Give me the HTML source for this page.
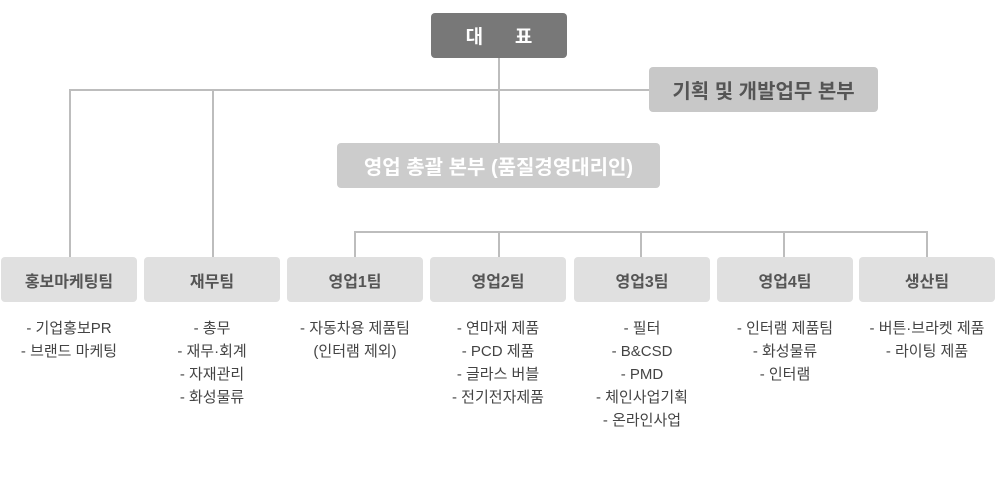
<!DOCTYPE html>
<html><head><meta charset="utf-8"><style>
body{margin:0;width:1000px;height:489px;background:#fff;position:relative;overflow:hidden;font-family:"Liberation Sans","Noto Sans CJK KR",sans-serif;}
.b{position:absolute;display:flex;align-items:center;justify-content:center;border-radius:4px;font-weight:bold;}
.l{position:absolute;background:#bdbdbd;}
.t{position:absolute;top:257px;width:136px;height:45px;background:#e0e0e0;color:#555;font-size:16px;}
.li{position:absolute;top:317px;width:150px;text-align:center;font-size:15px;line-height:23px;color:#444;}
</style></head><body>
<div class="l" style="left:498px;top:58px;width:2px;height:85px"></div>
<div class="l" style="left:69px;top:89px;width:580px;height:2px"></div>
<div class="l" style="left:69px;top:89px;width:2px;height:168px"></div>
<div class="l" style="left:212px;top:89px;width:2px;height:168px"></div>
<div class="l" style="left:354px;top:231px;width:574px;height:2px"></div>
<div class="l" style="left:354px;top:231px;width:2px;height:26px"></div>
<div class="l" style="left:498px;top:231px;width:2px;height:26px"></div>
<div class="l" style="left:640px;top:231px;width:2px;height:26px"></div>
<div class="l" style="left:783px;top:231px;width:2px;height:26px"></div>
<div class="l" style="left:926px;top:231px;width:2px;height:26px"></div>
<div class="b" style="left:431px;top:13px;width:136px;height:45px;background:#787878;color:#fff;font-size:19px;">대&nbsp;&nbsp;&nbsp;&nbsp;&nbsp;&nbsp;표</div>
<div class="b" style="left:649px;top:67px;width:229px;height:45px;background:#c8c8c8;color:#555;font-size:20px;">기획 및 개발업무 본부</div>
<div class="b" style="left:337px;top:143px;width:323px;height:45px;background:#cccccc;color:#fff;font-size:20px;">영업 총괄 본부 (품질경영대리인)</div>
<div class="b t" style="left:1px">홍보마케팅팀</div>
<div class="b t" style="left:144px">재무팀</div>
<div class="b t" style="left:287px">영업1팀</div>
<div class="b t" style="left:430px">영업2팀</div>
<div class="b t" style="left:574px">영업3팀</div>
<div class="b t" style="left:717px">영업4팀</div>
<div class="b t" style="left:859px">생산팀</div>
<div class="li" style="left:-6px">- 기업홍보PR<br>- 브랜드 마케팅</div>
<div class="li" style="left:137px">- 총무<br>- 재무·회계<br>- 자재관리<br>- 화성물류</div>
<div class="li" style="left:280px">- 자동차용 제품팀<br>(인터램 제외)</div>
<div class="li" style="left:423px">- 연마재 제품<br>- PCD 제품<br>- 글라스 버블<br>- 전기전자제품</div>
<div class="li" style="left:567px">- 필터<br>- B&amp;CSD<br>- PMD<br>- 체인사업기획<br>- 온라인사업</div>
<div class="li" style="left:710px">- 인터램 제품팀<br>- 화성물류<br>- 인터램</div>
<div class="li" style="left:852px">- 버튼·브라켓 제품<br>- 라이팅 제품</div>
</body></html>
